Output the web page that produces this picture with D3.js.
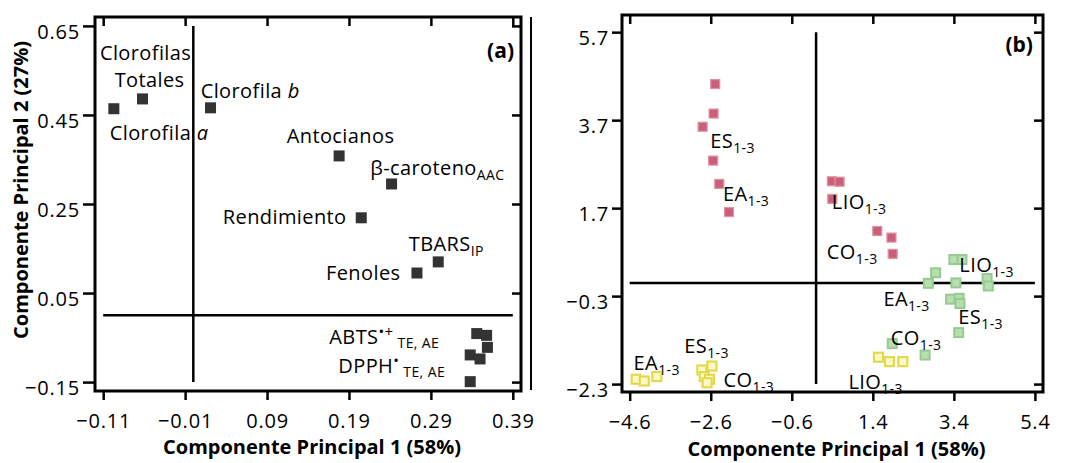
<!DOCTYPE html>
<html>
<head>
<meta charset="utf-8">
<script src="https://cdn.jsdelivr.net/npm/d3@7"></script>
<style>
  body { margin: 0; background: #fff; }
  svg { display: block; }
  text { font-family: "Open Sans", "Liberation Sans", sans-serif; fill: #000; white-space: pre; }
</style>
</head>
<body>
<svg id="chart" width="1066" height="463"></svg>
<script>
// ---- panel (a): variable loadings ----
const pc1A = [-0.097, -0.062, 0.021, 0.178, 0.242, 0.205, 0.299, 0.273, 0.346, 0.358, 0.359, 0.338, 0.350, 0.338];
const pc2A = [0.464, 0.486, 0.466, 0.358, 0.295, 0.219, 0.120, 0.095, -0.041, -0.045, -0.072, -0.089, -0.098, -0.149];
// label text: *italic*, ^superscript, _subscript ; anchored at data coords
const labelsA = ["Clorofilas", "Totales", "Clorofila *b*", "Clorofila *a*", "Antocianos", "β-caroteno_AAC",
  "Rendimiento", "TBARS_IP", "Fenoles", "ABTS^•+_ TE, AE", "DPPH^•_ TE, AE"];
const labelXA = [-0.114, -0.096, 0.009, -0.102, 0.114, 0.216, 0.036, 0.263, 0.162, 0.166, 0.177];
const labelYA = [0.573, 0.513, 0.488, 0.394, 0.387, 0.315, 0.205, 0.145, 0.079, -0.065, -0.130];
const xTicksA = [-0.11, -0.01, 0.09, 0.19, 0.29, 0.39];
const yTicksA = [-0.15, 0.05, 0.25, 0.45, 0.65];

// ---- panel (b): sample scores ----
const pinkX = [-2.49, -2.53, -2.80, -2.54, -2.39, -2.15, 0.39, 0.58, 0.40, 1.51, 1.86, 1.89];
const pinkY = [4.52, 3.85, 3.55, 2.78, 2.25, 1.61, 2.31, 2.30, 1.91, 1.18, 1.03, 0.66];
const greenX = [3.40, 3.60, 2.95, 2.77, 3.45, 4.22, 4.25, 3.32, 3.53, 3.55, 3.52, 1.88, 2.69];
const greenY = [0.53, 0.53, 0.23, -0.01, 0.00, 0.10, -0.07, -0.37, -0.35, -0.47, -1.13, -1.38, -1.64];
const yellowX = [-4.44, -4.24, -3.93, -2.82, -2.57, -2.76, -2.63, -2.69, 1.54, 1.81, 2.14];
const yellowY = [-2.19, -2.23, -2.13, -1.98, -1.89, -2.13, -2.19, -2.27, -1.69, -1.79, -1.79];
const labelsB = ["ES_1-3", "EA_1-3", "LIO_1-3", "CO_1-3", "LIO_1-3", "EA_1-3", "ES_1-3", "CO_1-3",
  "EA_1-3", "ES_1-3", "CO_1-3", "LIO_1-3"];
const labelXB = [-2.612, -2.299, 0.389, 0.266, 3.536, 1.661, 3.511, 1.844, -4.504, -3.254, -2.284, 0.798];
const labelYB = [3.067, 1.862, 1.680, 0.543, 0.255, -0.525, -0.941, -1.412, -1.980, -1.587, -2.360, -2.419];
const xTicksB = [-4.6, -2.6, -0.6, 1.4, 3.4, 5.4];
const yTicksB = [-2.3, -0.3, 1.7, 3.7, 5.7];

const svg = d3.select("#chart");

function drawLabel(g, str, x, y) {
  const m = str.match(/^([^^_]*)(?:\^([^_]*))?(?:_(.*))?$/);
  const t = g.append("text").attr("x", x).attr("y", y)
    .attr("font-size", 20).attr("letter-spacing", 0.4);
  m[1].split("*").forEach((part, i) => {
    if (!part) return;
    const ts = t.append("tspan").text(part);
    if (i % 2 === 1) ts.attr("font-style", "italic");
  });
  if (m[2]) t.append("tspan").attr("font-size", 15).attr("dy", -7).text(m[2]);
  if (m[3]) t.append("tspan").attr("font-size", 14).attr("dy", m[2] ? 11 : 5).text(m[3]);
}

function panel(opt) {
  const g = svg.append("g");
  const x = d3.scaleLinear().domain(opt.xDom).range([opt.left, opt.right]);
  const y = d3.scaleLinear().domain(opt.yDom).range([opt.bottom, opt.top]);

  // outer ticks with labels
  g.append("g").attr("transform", `translate(0,${opt.bottom})`)
    .call(d3.axisBottom(x).tickValues(opt.xTicks).tickFormat(d3.format(opt.fmt))
      .tickSize(9).tickSizeOuter(0).tickPadding(14))
    .call(a => a.select(".domain").remove())
    .call(a => a.selectAll("line").attr("stroke-width", 2.5))
    .call(a => a.selectAll("text").attr("font-size", 20).attr("letter-spacing", 0.8).attr("font-family", null));
  g.append("g").attr("transform", `translate(${opt.left},0)`)
    .call(d3.axisLeft(y).tickValues(opt.yTicks).tickFormat(d3.format(opt.fmt))
      .tickSize(opt.yTick).tickSizeOuter(0).tickPadding(3))
    .call(a => a.select(".domain").remove())
    .call(a => a.selectAll("line").attr("stroke-width", 2.5))
    .call(a => a.selectAll("text").attr("font-size", 20).attr("letter-spacing", 0.8)
      .attr("font-family", null).attr("dy", "0.62em"));
  // inner ticks on top and right
  g.append("g").attr("transform", `translate(0,${opt.top})`)
    .call(d3.axisBottom(x).tickValues(opt.xTicks).tickFormat("").tickSize(9).tickSizeOuter(0))
    .call(a => a.select(".domain").remove())
    .call(a => a.selectAll("line").attr("stroke-width", 2.5));
  g.append("g").attr("transform", `translate(${opt.right},0)`)
    .call(d3.axisLeft(y).tickValues(opt.yTicks).tickFormat("").tickSize(9).tickSizeOuter(0))
    .call(a => a.select(".domain").remove())
    .call(a => a.selectAll("line").attr("stroke-width", 2.5));

  g.append("rect")
    .attr("x", opt.left).attr("y", opt.top)
    .attr("width", opt.right - opt.left).attr("height", opt.bottom - opt.top)
    .attr("fill", "none").attr("stroke", "#000").attr("stroke-width", 3);

  // zero reference lines
  const xt = opt.xTicks, yt = opt.yTicks;
  g.append("line").attr("x1", x(0)).attr("x2", x(0))
    .attr("y1", y(yt[yt.length - 1])).attr("y2", y(yt[0]))
    .attr("stroke", "#000").attr("stroke-width", 2.5);
  g.append("line").attr("x1", x(xt[0])).attr("x2", x(xt[xt.length - 1]))
    .attr("y1", y(0)).attr("y2", y(0))
    .attr("stroke", "#000").attr("stroke-width", 2.5);

  g.append("text").attr("x", opt.tagX).attr("y", opt.tagY)
    .attr("text-anchor", "end").attr("font-size", 21).attr("font-weight", "bold").text(opt.tag);

  g.append("text").attr("x", (opt.left + opt.right) / 2 + 4).attr("y", opt.titleY)
    .attr("text-anchor", "middle").attr("font-size", 20).attr("font-weight", "bold")
    .text("Componente Principal 1 (58%)");

  return { g, x, y };
}

// ---------- panel (a) ----------
const A = panel({
  xDom: [-0.12, 0.40], yDom: [-0.17, 0.67],
  left: 95, right: 521, top: 17, bottom: 391,
  xTicks: xTicksA, yTicks: yTicksA, fmt: ".2f", yTick: 12,
  tag: "(a)", tagX: 514, tagY: 58, titleY: 454
});
A.g.append("text")
  .attr("transform", "translate(28,190) rotate(-90)")
  .attr("text-anchor", "middle").attr("font-size", 20).attr("font-weight", "bold")
  .text("Componente Principal 2 (27%)");

A.g.append("g").selectAll("rect").data(d3.range(pc1A.length)).join("rect")
  .attr("x", i => A.x(pc1A[i]) - 5.5).attr("y", i => A.y(pc2A[i]) - 5.5)
  .attr("width", 11).attr("height", 11).attr("fill", "#333");
labelsA.forEach((s, i) => drawLabel(A.g, s, A.x(labelXA[i]), A.y(labelYA[i])));

// separator line between the panels
svg.append("line").attr("x1", 531).attr("x2", 531).attr("y1", 17).attr("y2", 390)
  .attr("stroke", "#000").attr("stroke-width", 2);

// ---------- panel (b) ----------
const B = panel({
  xDom: [-4.79, 5.6], yDom: [-2.48, 6.09],
  left: 622, right: 1043, top: 15, bottom: 392,
  xTicks: xTicksB, yTicks: yTicksB, fmt: ".1f", yTick: 10,
  tag: "(b)", tagX: 1033, tagY: 52, titleY: 456
});

const groups = [
  { xs: yellowX, ys: yellowY, fill: "#fdf8c8", stroke: "#e2da4e", sw: 2.2 },
  { xs: greenX, ys: greenY, fill: "#b7dfae", stroke: "#98c995", sw: 2 },
  { xs: pinkX, ys: pinkY, fill: "#cb5f79", stroke: "#df93a5", sw: 1.2 }
];
groups.forEach(gr => {
  B.g.append("g").selectAll("rect").data(d3.range(gr.xs.length)).join("rect")
    .attr("x", i => B.x(gr.xs[i]) - 4.5).attr("y", i => B.y(gr.ys[i]) - 4.5)
    .attr("width", 9).attr("height", 9)
    .attr("fill", gr.fill).attr("stroke", gr.stroke).attr("stroke-width", gr.sw);
});
labelsB.forEach((s, i) => drawLabel(B.g, s, B.x(labelXB[i]), B.y(labelYB[i])));
</script>
</body>
</html>
